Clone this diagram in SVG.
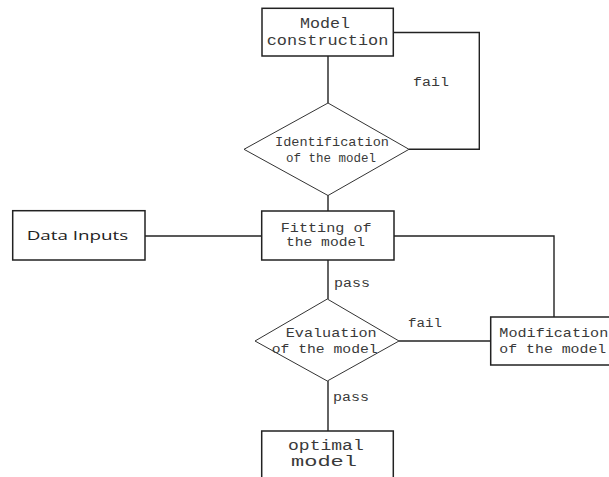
<svg xmlns="http://www.w3.org/2000/svg" width="609" height="477" viewBox="0 0 609 477">
<style>
.box{fill:#fff;stroke:#222;stroke-width:1.5}
.dia{fill:#fff;stroke:#333;stroke-width:1}
.ln{fill:none;stroke:#222;stroke-width:1.4}
text{font-family:"Liberation Mono","DejaVu Sans Mono",monospace;fill:#3a3a3a}
.big{font-size:14px}
.mid{font-size:13px}
.sm{font-size:12px}
.sans{font-family:"Open Sans","Liberation Sans",sans-serif;font-size:13.5px;fill:#222}
</style>
<rect width="609" height="477" fill="#fff"/>
<g id="connectors">
<path class="ln" d="M328,56 V103"/>
<path class="ln" d="M393,32.5 H479.3 V149.3 H409"/>
<path class="ln" d="M328,195 V211"/>
<path class="ln" d="M145,236 H262"/>
<path class="ln" d="M394,236 H554 V317"/>
<path class="ln" d="M328,260 V299"/>
<path class="ln" d="M399,341 H490.7"/>
<path class="ln" d="M328,381 V431"/>
<text class="sm" x="413" y="86" textLength="36" lengthAdjust="spacingAndGlyphs">fail</text>
<text class="sm" x="334" y="286.5" textLength="36" lengthAdjust="spacingAndGlyphs">pass</text>
<text class="sm" x="408" y="327" textLength="34" lengthAdjust="spacingAndGlyphs">fail</text>
<text class="sm" x="333" y="401" textLength="36" lengthAdjust="spacingAndGlyphs">pass</text>
</g>
<g id="model-construction">
<rect class="box" x="262" y="8.3" width="131.3" height="47.7"/>
<text class="big" x="300" y="28.3" textLength="50" lengthAdjust="spacingAndGlyphs">Model</text>
<text class="big" x="266.7" y="44.5" textLength="121.7" lengthAdjust="spacingAndGlyphs">construction</text>
</g>
<g id="identification">
<polygon class="dia" points="328,103 409,149.3 328,195.5 244,149.3"/>
<text class="mid" x="275" y="145.7" textLength="114" lengthAdjust="spacingAndGlyphs">Identification</text>
<text class="mid" x="286" y="161.5" textLength="90" lengthAdjust="spacingAndGlyphs">of the model</text>
</g>
<g id="data-inputs">
<rect class="box" x="12.7" y="210.7" width="132.3" height="49.3"/>
<text class="sans" x="26.7" y="239.5" textLength="101.6" lengthAdjust="spacingAndGlyphs">Data Inputs</text>
</g>
<g id="fitting">
<rect class="box" x="261.7" y="211" width="132.3" height="49"/>
<text class="mid" x="280.7" y="231.7" textLength="91" lengthAdjust="spacingAndGlyphs">Fitting of</text>
<text class="mid" x="286" y="246" textLength="79" lengthAdjust="spacingAndGlyphs">the model</text>
</g>
<g id="evaluation">
<polygon class="dia" points="327.3,299 399,341 327.3,381 255,341"/>
<text class="mid" x="285.7" y="337" textLength="91" lengthAdjust="spacingAndGlyphs">Evaluation</text>
<text class="mid" x="271.7" y="353" textLength="106" lengthAdjust="spacingAndGlyphs">of the model</text>
</g>
<g id="modification">
<rect class="box" x="490.7" y="317" width="140" height="48"/>
<text class="mid" x="499.3" y="337" textLength="109" lengthAdjust="spacingAndGlyphs">Modification</text>
<text class="mid" x="499.3" y="353" textLength="107" lengthAdjust="spacingAndGlyphs">of the model</text>
</g>
<g id="optimal">
<rect class="box" x="261.7" y="431" width="131.6" height="60"/>
<text class="big" x="288" y="450" textLength="75.7" lengthAdjust="spacingAndGlyphs">optimal</text>
<text class="big" x="291" y="465.5" textLength="66" lengthAdjust="spacingAndGlyphs">model</text>
</g>
</svg>
